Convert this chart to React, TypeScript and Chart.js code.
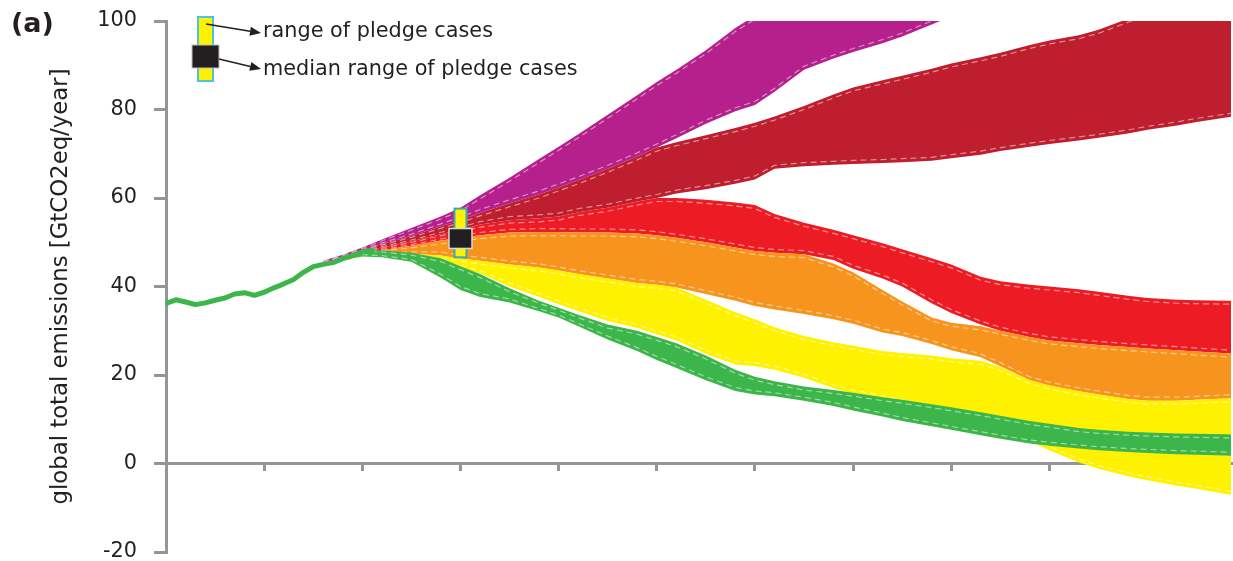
import React, { useEffect, useRef } from "react";
import { Chart, registerables } from "chart.js";

Chart.register(...registerables);

// ---------- data ----------
const HIST_YEARS = [1990, 1991, 1992, 1993, 1994, 1995, 1996, 1997, 1998, 1999, 2000, 2001, 2002, 2003, 2004, 2005, 2006, 2007, 2008, 2009, 2010, 2011];
const HIST_EMISSIONS = [36.2, 37.0, 36.5, 35.9, 36.3, 36.9, 37.4, 38.3, 38.6, 38.0, 38.7, 39.7, 40.6, 41.6, 43.2, 44.5, 45.0, 45.4, 46.3, 47.0, 47.8, 48.2];

const SCEN_YEARS = [2006, 2008, 2010, 2012, 2015, 2018, 2020, 2022, 2025, 2028, 2030, 2032, 2035, 2038, 2040, 2042, 2045, 2048, 2050, 2052, 2055, 2058, 2060, 2063, 2065, 2068, 2070, 2073, 2075, 2078, 2080, 2083, 2085, 2088, 2090, 2093, 2095, 2098, 2100];

const MAGENTA_HIGH = [45.8, 47.2, 48.8, 50.6, 53.2, 55.8, 57.8, 60.6, 64.6, 68.8, 71.6, 74.4, 78.8, 83.2, 86.2, 89.0, 93.4, 98.4, 101.2, 104.0, 108.0, 112.0, 115.0, 119.0, 122.0, 126.0, 129.0, null, null, null, null, null, null, null, null, null, null, null, null];
const MAGENTA_LOW = [45.4, 46.8, 48.2, 49.6, 51.4, 53.6, 55.0, 56.6, 58.8, 60.8, 62.4, 64.0, 66.6, 69.4, 71.4, 73.5, 76.8, 79.6, 81.0, 84.0, 89.0, 91.5, 93.0, 95.0, 96.5, 99.2, 101.0, null, null, null, null, null, null, null, null, null, null, null, null];

const DARKRED_HIGH = [45.4, 46.8, 48.2, 49.6, 51.4, 53.6, 55.0, 56.6, 58.8, 60.8, 62.4, 64.0, 66.6, 69.4, 71.4, 72.6, 74.2, 75.8, 77.0, 78.4, 80.8, 83.4, 85.0, 86.6, 87.6, 89.2, 90.4, 91.8, 92.8, 94.6, 95.6, 96.8, 98.0, 100.5, 102.0, 104.0, 105.0, 107.0, 108.0];
const DARKRED_LOW = [45.2, 46.6, 47.9, 48.8, 50.2, 51.8, 52.8, 54.0, 55.0, 55.4, 55.8, 56.8, 57.8, 59.2, 60.0, 61.0, 62.0, 63.2, 64.2, 66.6, 67.2, 67.5, 67.7, 67.9, 68.1, 68.4, 69.0, 69.8, 70.6, 71.6, 72.2, 73.0, 73.6, 74.6, 75.4, 76.4, 77.2, 78.2, 78.8];

const RED_HIGH = [45.2, 46.6, 47.9, 48.8, 50.2, 51.8, 52.8, 54.0, 55.0, 55.4, 55.8, 56.8, 57.8, 59.2, 60.0, 60.0, 59.6, 59.0, 58.4, 56.4, 54.4, 52.8, 51.6, 49.8, 48.4, 46.4, 45.0, 42.2, 41.2, 40.4, 40.0, 39.4, 38.8, 37.9, 37.4, 37.0, 36.9, 36.8, 36.8];
const RED_LOW = [45.0, 46.4, 47.6, 48.2, 49.2, 50.4, 51.0, 51.6, 52.2, 52.3, 52.3, 52.2, 52.2, 52.0, 51.6, 51.0, 50.0, 48.8, 48.0, 47.6, 47.3, 46.0, 44.0, 41.8, 40.0, 36.2, 34.0, 31.4, 30.0, 28.6, 27.8, 27.2, 26.8, 26.3, 26.0, 25.6, 25.3, 24.9, 24.7];

const ORANGE_HIGH = [45.0, 46.4, 47.6, 48.2, 49.2, 50.4, 51.0, 51.6, 52.2, 52.3, 52.3, 52.2, 52.2, 52.0, 51.6, 51.0, 50.0, 48.8, 48.0, 47.6, 47.3, 45.2, 43.2, 39.2, 36.6, 33.0, 31.8, 31.0, 30.0, 28.6, 27.8, 27.2, 26.8, 26.3, 26.0, 25.6, 25.3, 24.9, 24.7];
const ORANGE_LOW = [44.4, 45.7, 47.0, 47.3, 47.4, 47.0, 46.3, 45.8, 45.0, 44.3, 43.6, 42.8, 41.8, 40.8, 40.4, 39.8, 38.3, 36.8, 35.6, 34.8, 33.8, 32.6, 31.6, 29.6, 28.8, 27.0, 25.6, 24.0, 22.0, 18.8, 17.6, 16.3, 15.6, 14.6, 14.2, 14.2, 14.4, 14.7, 14.7];

const YELLOW_HIGH = [44.4, 45.7, 47.0, 47.3, 47.4, 47.0, 46.3, 45.8, 45.0, 44.3, 43.6, 42.8, 41.8, 40.8, 40.4, 39.8, 37.0, 34.2, 32.6, 30.8, 28.8, 27.4, 26.6, 25.4, 25.0, 24.4, 23.8, 23.2, 21.8, 18.8, 17.6, 16.3, 15.6, 14.6, 14.2, 14.2, 14.4, 14.7, 14.7];
const YELLOW_LOW = [44.4, 45.7, 46.8, 47.0, 46.0, 44.8, 44.2, 43.0, 40.0, 37.6, 36.0, 34.4, 32.2, 30.6, 29.2, 27.8, 24.8, 22.4, 22.0, 21.2, 19.4, 17.0, 15.8, 14.6, 13.6, 12.2, 11.2, 9.2, 7.4, 5.0, 3.0, 0.2, -1.2, -2.9, -3.8, -5.0, -5.7, -6.9, -7.4];

const GREEN_HIGH = [45.0, 46.4, 48.4, 48.2, 47.6, 46.4, 44.6, 42.8, 39.6, 36.8, 35.2, 33.6, 31.4, 30.0, 28.6, 27.2, 24.4, 21.2, 19.6, 18.6, 17.4, 16.6, 16.0, 15.0, 14.4, 13.4, 12.7, 11.6, 10.8, 9.6, 9.0, 8.0, 7.6, 7.2, 7.0, 6.8, 6.7, 6.6, 6.5];
const GREEN_LOW = [44.8, 46.0, 46.8, 46.6, 45.6, 42.0, 39.2, 37.6, 36.4, 34.4, 33.0, 31.0, 28.0, 25.4, 23.4, 21.6, 18.8, 16.4, 15.6, 15.2, 14.2, 13.0, 12.0, 10.6, 9.6, 8.4, 7.6, 6.4, 5.6, 4.5, 4.0, 3.4, 3.0, 2.6, 2.4, 2.1, 2.0, 1.8, 1.7];

const PLEDGE_YEAR = 2020;
const PLEDGE_RANGE = [46.6, 57.6];
const PLEDGE_MEDIAN = [48.6, 53.1];

const X_TICKS = [1990, 2000, 2010, 2020, 2030, 2040, 2050, 2060, 2070, 2080, 2090];
const Y_TICKS = [-20, 0, 20, 40, 60, 80, 100];
const X_MIN = 1990;
const X_MAX = 2098.5;

const Y_TITLE = "global total emissions [GtCO2eq/year]";
const PANEL_LABEL = "(a)";
const LEGEND_RANGE = "range of pledge cases";
const LEGEND_MEDIAN = "median range of pledge cases";

// ---------- styles ----------
const FONT = '"DejaVu Sans", sans-serif';
const TEXT = "#231f20";
const AXIS_GRAY = "#939598";
const COLORS = {
  green: "#3cb54a",
  yellow: "#fff200",
  orange: "#f7941e",
  red: "#ed1c24",
  darkred: "#be1e2d",
  magenta: "#b5208d",
};
const DASH = "rgba(255,255,255,0.5)";
const CLEAR = "rgba(0,0,0,0)";

const BANDS = [
  { color: COLORS.green, hi: GREEN_HIGH, lo: GREEN_LOW },
  { color: COLORS.yellow, hi: YELLOW_HIGH, lo: YELLOW_LOW },
  { color: COLORS.orange, hi: ORANGE_HIGH, lo: ORANGE_LOW },
  { color: COLORS.red, hi: RED_HIGH, lo: RED_LOW },
  { color: COLORS.darkred, hi: DARKRED_HIGH, lo: DARKRED_LOW },
  { color: COLORS.magenta, hi: MAGENTA_HIGH, lo: MAGENTA_LOW },
];

const toPoints = (xs: number[], ys: (number | null)[]) =>
  xs.map((x, i) => ({ x, y: ys[i] }));

function arrow(ctx: CanvasRenderingContext2D, x1: number, y1: number, x2: number, y2: number) {
  const ang = Math.atan2(y2 - y1, x2 - x1);
  const len = 11;
  const hw = 4.5;
  const bx = x2 - len * Math.cos(ang);
  const by = y2 - len * Math.sin(ang);
  ctx.beginPath();
  ctx.moveTo(x1, y1);
  ctx.lineTo(bx, by);
  ctx.stroke();
  ctx.beginPath();
  ctx.moveTo(x2, y2);
  ctx.lineTo(bx + hw * Math.sin(ang), by - hw * Math.cos(ang));
  ctx.lineTo(bx - hw * Math.sin(ang), by + hw * Math.cos(ang));
  ctx.closePath();
  ctx.fill();
}

const overlayPlugin = {
  id: "overlay",
  // light dashed lines just inside both edges of each band
  afterDatasetDraw(chart: any, args: any) {
    const i = args.index;
    if (i < 2 || i % 2 !== 0) return;
    const loPts = args.meta.data;
    const hiPts = chart.getDatasetMeta(i - 1).data;
    const area = chart.chartArea;
    const ctx: CanvasRenderingContext2D = chart.ctx;
    ctx.save();
    ctx.beginPath();
    ctx.rect(area.left, area.top, area.right - area.left, area.bottom - area.top);
    ctx.clip();
    ctx.strokeStyle = DASH;
    ctx.lineWidth = 1.2;
    ctx.setLineDash([6, 4]);
    for (const side of [1, -1]) {
      ctx.beginPath();
      let started = false;
      for (let k = 0; k < loPts.length; k++) {
        const h = hiPts[k];
        const l = loPts[k];
        if (!h || !l || h.skip || l.skip || !isFinite(h.y) || !isFinite(l.y)) {
          started = false;
          continue;
        }
        const th = l.y - h.y;
        const off = Math.max(0, Math.min(3.5, th / 4));
        const y = side === 1 ? h.y + off : l.y - off;
        if (!started) {
          ctx.moveTo(h.x, y);
          started = true;
        } else {
          ctx.lineTo(h.x, y);
        }
      }
      ctx.stroke();
    }
    ctx.restore();
  },
  afterDatasetsDraw(chart: any) {
    const ctx: CanvasRenderingContext2D = chart.ctx;
    const xs = chart.scales.x;
    const ys = chart.scales.y;
    ctx.save();

    // pledge marker at 2020 (through scales)
    const px = xs.getPixelForValue(PLEDGE_YEAR);
    const rTop = ys.getPixelForValue(PLEDGE_RANGE[1]);
    const rBot = ys.getPixelForValue(PLEDGE_RANGE[0]);
    ctx.fillStyle = COLORS.yellow;
    ctx.fillRect(px - 6, rTop, 12, rBot - rTop);
    ctx.strokeStyle = "#3aa9b4";
    ctx.lineWidth = 2;
    ctx.strokeRect(px - 6, rTop, 12, rBot - rTop);
    const mTop = ys.getPixelForValue(PLEDGE_MEDIAN[1]);
    const mBot = ys.getPixelForValue(PLEDGE_MEDIAN[0]);
    ctx.fillStyle = TEXT;
    ctx.fillRect(px - 11.5, mTop, 23, mBot - mTop);
    ctx.strokeStyle = "#d8d8d8";
    ctx.lineWidth = 1.5;
    ctx.strokeRect(px - 11.5, mTop, 23, mBot - mTop);

    // legend glyph
    ctx.fillStyle = COLORS.yellow;
    ctx.fillRect(198, 17, 15, 64);
    ctx.strokeStyle = "#4cc3e6";
    ctx.lineWidth = 2;
    ctx.strokeRect(198, 17, 15, 64);
    ctx.fillStyle = TEXT;
    ctx.fillRect(192, 45, 27, 23);
    ctx.strokeStyle = "#bdbdbd";
    ctx.lineWidth = 1;
    ctx.strokeRect(192, 45, 27, 23);

    ctx.strokeStyle = TEXT;
    ctx.fillStyle = TEXT;
    ctx.lineWidth = 1.5;
    arrow(ctx, 206, 24, 261, 33);
    arrow(ctx, 219, 59, 261, 69);

    ctx.font = `20.8px ${FONT}`;
    ctx.textAlign = "left";
    ctx.textBaseline = "middle";
    ctx.fillText(LEGEND_RANGE, 263, 32);
    ctx.fillText(LEGEND_MEDIAN, 263, 70);

    ctx.font = `bold 27px ${FONT}`;
    ctx.fillText(PANEL_LABEL, 11, 25);

    ctx.restore();
  },
};

export default function App() {
  const ref = useRef<HTMLCanvasElement | null>(null);

  useEffect(() => {
    if (!ref.current) return;
    const datasets: any[] = [
      {
        data: toPoints(HIST_YEARS, HIST_EMISSIONS),
        borderColor: COLORS.green,
        borderWidth: 5,
        pointRadius: 0,
        fill: false,
        borderCapStyle: "round",
        borderJoinStyle: "round",
      },
    ];
    BANDS.forEach((b) => {
      datasets.push({
        data: toPoints(SCEN_YEARS, b.hi),
        borderColor: CLEAR,
        borderWidth: 1,
        pointRadius: 0,
        fill: false,
      });
      datasets.push({
        data: toPoints(SCEN_YEARS, b.lo),
        borderColor: CLEAR,
        borderWidth: 1,
        pointRadius: 0,
        fill: "-1",
        backgroundColor: b.color,
      });
    });

    const chart = new Chart(ref.current, {
      type: "line",
      data: { datasets },
      plugins: [overlayPlugin],
      options: {
        responsive: false,
        animation: false,
        events: [],
        layout: { padding: { top: 21, right: 2, bottom: 9, left: 0 } },
        plugins: {
          legend: { display: false },
          tooltip: { enabled: false },
          title: { display: false },
        },
        elements: { line: { tension: 0 } },
        scales: {
          x: {
            type: "linear",
            min: X_MIN,
            max: X_MAX,
            position: { y: 0 } as any,
            afterBuildTicks: (s: any) => {
              s.ticks = X_TICKS.map((v) => ({ value: v }));
            },
            afterFit: (s: any) => {
              s.height = 0;
              s.paddingLeft = 0;
              s.paddingRight = 0;
            },
            border: { display: true, color: AXIS_GRAY, width: 3 },
            grid: {
              display: true,
              drawOnChartArea: false,
              drawTicks: true,
              tickLength: 6,
              color: AXIS_GRAY,
              lineWidth: 3,
            },
            ticks: { display: false },
          },
          y: {
            type: "linear",
            min: -20,
            max: 100,
            afterBuildTicks: (s: any) => {
              s.ticks = Y_TICKS.map((v) => ({ value: v }));
            },
            afterFit: (s: any) => {
              s.width = 166;
              s.paddingTop = 0;
              s.paddingBottom = 0;
            },
            border: { display: true, color: AXIS_GRAY, width: 3 },
            grid: {
              display: true,
              drawOnChartArea: false,
              drawTicks: true,
              tickLength: 12,
              color: AXIS_GRAY,
              lineWidth: 3,
            },
            ticks: {
              color: TEXT,
              padding: 17,
              font: { family: FONT, size: 20.8 },
            },
            title: {
              display: true,
              text: Y_TITLE,
              color: TEXT,
              font: { family: FONT, size: 22.8 },
              padding: { top: 47, bottom: 0 },
            },
          },
        },
      } as any,
    });
    return () => chart.destroy();
  }, []);

  return (
    <div style={{ position: "absolute", left: 0, top: 0, width: 1233, height: 561, background: "#fff" }}>
      <canvas ref={ref} width={1233} height={561} style={{ display: "block" }} />
    </div>
  );
}
